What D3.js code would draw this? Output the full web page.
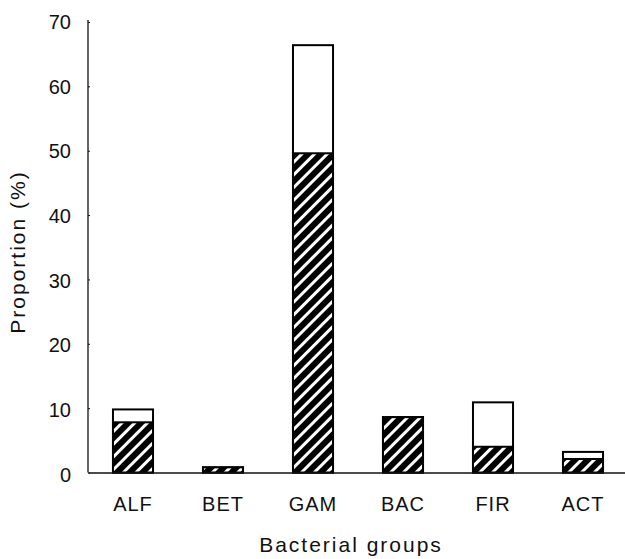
<!DOCTYPE html>
<html>
<head>
<meta charset="utf-8">
<script src="https://cdn.jsdelivr.net/npm/d3@7"></script>
<style>
  body { margin: 0; background: #fff; }
  text { font-family: "Liberation Sans", Arial, sans-serif; fill: #111; }
</style>
</head>
<body>
<div id="chart"></div>
<script>
// data
var groups = ["ALF", "BET", "GAM", "BAC", "FIR", "ACT"];
var hatched = [7.8, 0.8, 49.6, 8.6, 4.0, 2.1];   // lower (hatched) part
var totals = [9.8, 0.8, 66.4, 8.6, 10.9, 3.2];   // full bar height
var yTicks = [0, 10, 20, 30, 40, 50, 60, 70];

var svgWidth = 625;
var svgHeight = 559;

var margin = { top: 22, right: -3, bottom: 86.5, left: 88 };
var chartWidth = svgWidth - margin.left - margin.right;
var chartHeight = svgHeight - margin.top - margin.bottom;

var svg = d3.select("#chart")
  .append("svg")
  .attr("width", svgWidth)
  .attr("height", svgHeight);

// hatch pattern: black with white diagonal stripes
var defs = svg.append("defs");
var pat = defs.append("pattern")
  .attr("id", "hatch")
  .attr("patternUnits", "userSpaceOnUse")
  .attr("width", 9)
  .attr("height", 9)
  .attr("patternTransform", "rotate(45)");
pat.append("rect").attr("width", 9).attr("height", 9).attr("fill", "#000");
pat.append("rect").attr("x", 0).attr("width", 3).attr("height", 9).attr("fill", "#fff");

var chartGroup = svg.append("g")
  .attr("transform", `translate(${margin.left}, ${margin.top})`);

var xScale = d3.scaleBand()
  .domain(groups)
  .range([0, chartWidth])
  .paddingInner(0.555)
  .paddingOuter(0.2775);

var yScale = d3.scaleLinear()
  .domain([0, 70])
  .range([chartHeight, 0]);

// y axis
var leftAxis = d3.axisLeft(yScale)
  .tickValues(yTicks)
  .tickSizeInner(-2)
  .tickSizeOuter(0)
  .tickPadding(17);

var yAxisG = chartGroup.append("g").call(leftAxis);
yAxisG.select(".domain").attr("stroke", "#111").attr("stroke-width", 1.3)
  .attr("d", `M0,${-2}V${chartHeight}`);
yAxisG.selectAll(".tick line").attr("stroke", "#111");
yAxisG.selectAll("text")
  .attr("font-size", "20px")
  .attr("fill", "#111")
  .attr("dy", (d) => (0.32 + d / 70 * -0.12 + 0.12) + "em");

// bars: white total, then hatched part on top
var bars = chartGroup.selectAll(".bar")
  .data(groups)
  .enter()
  .append("g")
  .attr("class", "bar");

bars.append("rect")
  .attr("x", d => xScale(d))
  .attr("y", (d, i) => yScale(totals[i]))
  .attr("width", xScale.bandwidth())
  .attr("height", (d, i) => yScale(0) - yScale(totals[i]))
  .attr("fill", "#fff")
  .attr("stroke", "#000")
  .attr("stroke-width", 2);

bars.append("rect")
  .attr("x", d => xScale(d))
  .attr("y", (d, i) => yScale(hatched[i]))
  .attr("width", xScale.bandwidth())
  .attr("height", (d, i) => yScale(0) - yScale(hatched[i]))
  .attr("fill", "url(#hatch)")
  .attr("stroke", "#000")
  .attr("stroke-width", 2);

// x axis
var bottomAxis = d3.axisBottom(xScale)
  .tickSize(0)
  .tickPadding(24);

var xAxisG = chartGroup.append("g")
  .attr("transform", "translate(0, " + chartHeight + ")")
  .call(bottomAxis);
xAxisG.select(".domain").attr("stroke", "#111").attr("stroke-width", 1.5);
xAxisG.selectAll("text")
  .attr("font-size", "20px")
  .attr("letter-spacing", "1px")
  .attr("fill", "#111");

// axis titles
chartGroup.append("text")
  .attr("transform", "rotate(-90)")
  .attr("x", 0 - 230)
  .attr("y", 18 - margin.left)
  .attr("dy", "0.35em")
  .style("text-anchor", "middle")
  .attr("font-size", "21px")
  .attr("letter-spacing", "2px")
  .text("Proportion (%)");

chartGroup.append("text")
  .attr("x", 351 - margin.left)
  .attr("y", 552 - margin.top)
  .style("text-anchor", "middle")
  .attr("font-size", "21px")
  .attr("letter-spacing", "2px")
  .text("Bacterial groups");
</script>
</body>
</html>
